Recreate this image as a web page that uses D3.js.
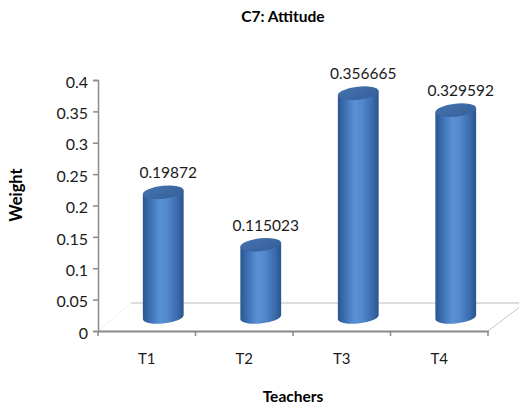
<!DOCTYPE html>
<html>
<head>
<meta charset="utf-8">
<script src="https://cdn.jsdelivr.net/npm/d3@7"></script>
<style>
  html, body { margin: 0; padding: 0; background: #fff; }
  svg { display: block; font-family: Lato, "Open Sans", sans-serif; }
</style>
</head>
<body>
<svg id="chart" width="519" height="409"></svg>
<script>
// Weights per teacher for criterion C7
const categories = ["T1", "T2", "T3", "T4"];
const weights = [0.19872, 0.115023, 0.356665, 0.329592];
const valueLabels = ["0.19872", "0.115023", "0.356665", "0.329592"];
const yTicks = [0, 0.05, 0.1, 0.15, 0.2, 0.25, 0.3, 0.35, 0.4];
const yTickLabels = ["0", "0.05", "0.1", "0.15", "0.2", "0.25", "0.3", "0.35", "0.4"];

const svg = d3.select("#chart");
const axisColor = "#8a8a8a";

// plot frame (front plane)
const x = d3.scaleBand().domain(categories).range([98, 488]).paddingInner(0).paddingOuter(0);
const y = d3.scaleLinear().domain([0, 0.4]).range([331, 80]);

// depth offset of the 3D floor; cylinders sit half way back
const depth = { dx: 33, dy: -28 };
const mid = { dx: depth.dx / 2, dy: depth.dy / 2 };

// gradients
const defs = svg.append("defs");
const bodyGrad = defs.append("linearGradient").attr("id", "cylBody")
  .attr("x1", 0).attr("x2", 1).attr("y1", 0).attr("y2", 0);
[["0%", "#2b5690"], ["18%", "#3d70b3"], ["42%", "#5a91d6"], ["60%", "#5288cc"], ["85%", "#3a6bab"], ["100%", "#2a548d"]]
  .forEach(([o, c]) => bodyGrad.append("stop").attr("offset", o).attr("stop-color", c));
const topGrad = defs.append("linearGradient").attr("id", "cylTop")
  .attr("x1", 0).attr("x2", 1).attr("y1", 0).attr("y2", 1);
[["0%", "#4572ae"], ["100%", "#355f99"]]
  .forEach(([o, c]) => topGrad.append("stop").attr("offset", o).attr("stop-color", c));

// floor
const x0 = x.range()[0], x1 = x.range()[1], y0 = y(0);
svg.append("path")
  .attr("d", `M${x0},${y0} L${x0 + depth.dx},${y0 + depth.dy} L${x1 + depth.dx},${y0 + depth.dy}`)
  .attr("fill", "none").attr("stroke", "#f0f0f0").attr("stroke-width", 1);
svg.append("path")
  .attr("d", `M${x0 + depth.dx},${y0 + depth.dy} L${x1 + depth.dx + 4},${y0 + depth.dy} L${x1},${y0}`)
  .attr("fill", "none").attr("stroke", "#c4c4c4").attr("stroke-width", 1);

// cylinders
const rx = 20.5, ry = 6.5, tilt = -6;
const th = tilt * Math.PI / 180;
const X = Math.sqrt(rx * rx * Math.cos(th) ** 2 + ry * ry * Math.sin(th) ** 2);
const d = (rx * rx - ry * ry) * Math.sin(th) * Math.cos(th) / X;

const bars = svg.append("g").selectAll("g").data(categories).join("g");
bars.each(function (c, i) {
  const g = d3.select(this);
  const cx = x(c) + x.bandwidth() / 2 + mid.dx;
  const base = y(0) + mid.dy;
  const top = y(weights[i]) + mid.dy;
  g.append("path")
    .attr("d", `M${cx - X},${top - d} L${cx - X},${base - d} ` +
               `A${rx},${ry} ${tilt} 0 0 ${cx + X},${base + d} ` +
               `L${cx + X},${top + d} Z`)
    .attr("fill", "url(#cylBody)");
  g.append("ellipse")
    .attr("cx", 0).attr("cy", 0).attr("rx", rx).attr("ry", ry)
    .attr("transform", `translate(${cx},${top}) rotate(${tilt})`)
    .attr("fill", "url(#cylTop)");
  g.append("text")
    .attr("x", cx + 5).attr("y", top - 14)
    .attr("text-anchor", "middle")
    .attr("font-size", 15.5).attr("fill", "#1a1a1a")
    .text(valueLabels[i]);
});

// y axis
const yAxis = d3.axisLeft(y).tickValues(yTicks)
  .tickFormat((v, i) => yTickLabels[i]).tickSize(5).tickPadding(5);
const gy = svg.append("g").attr("transform", `translate(${x0},0)`).call(yAxis);
gy.select(".domain").attr("stroke", axisColor).attr("stroke-width", 1.5);
gy.selectAll(".tick line").attr("stroke", axisColor).attr("stroke-width", 1.5);
gy.selectAll(".tick text").attr("font-size", 16).attr("fill", "#1a1a1a")
  .attr("font-family", "Lato, sans-serif").attr("dy", "0.45em");

// x axis: labels at band centres, tick marks at band edges
const xAxis = d3.axisBottom(x).tickSize(0).tickPadding(22);
const gx = svg.append("g").attr("transform", `translate(0,${y0})`).call(xAxis);
gx.select(".domain").attr("stroke", axisColor).attr("stroke-width", 2);
gx.selectAll(".tick text").attr("font-size", 15).attr("fill", "#1a1a1a")
  .attr("font-family", "Lato, sans-serif");
const edges = categories.map(c => x(c)).concat([x1]);
svg.append("g").selectAll("line").data(edges).join("line")
  .attr("x1", v => v).attr("x2", v => v)
  .attr("y1", y0).attr("y2", y0 + 5)
  .attr("stroke", axisColor).attr("stroke-width", 1.5);

// titles
svg.append("text").attr("x", 283).attr("y", 22).attr("text-anchor", "middle")
  .attr("font-size", 15.5).attr("font-weight", "bold").text("C7: Attitude");
svg.append("text").attr("x", 293).attr("y", 402).attr("text-anchor", "middle")
  .attr("font-size", 15.5).attr("font-weight", "bold").text("Teachers");
svg.append("text").attr("transform", "translate(22,195) rotate(-90)")
  .attr("text-anchor", "middle")
  .attr("font-size", 16.5).attr("font-weight", "bold").text("Weight");
</script>
</body>
</html>
